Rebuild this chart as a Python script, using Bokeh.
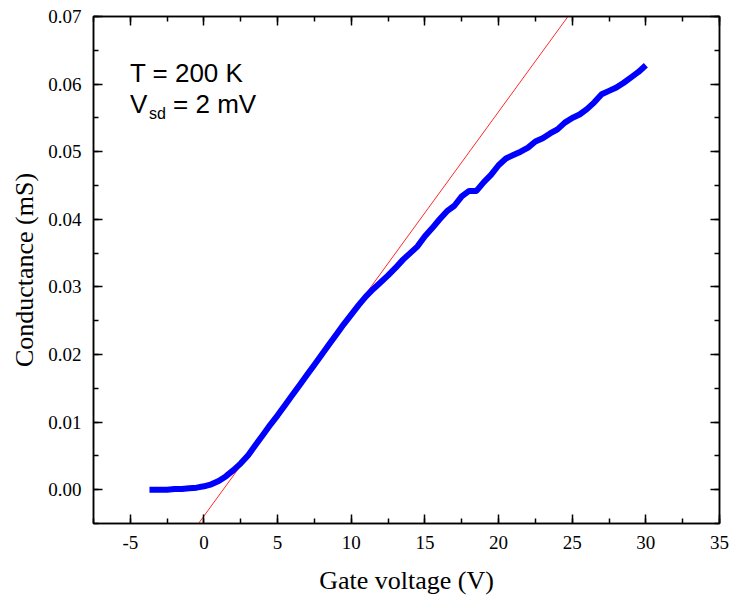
from bokeh.plotting import figure
from bokeh.models import (Range1d, LinearAxis, SingleIntervalTicker,
                          CustomJSTickFormatter, ColumnDataSource)
from bokeh.core.properties import value
from bokeh.embed import file_html
from bokeh.resources import INLINE

# ---- data ----
gate_voltage = [-3.7, -3.0, -2.5, -2.0, -1.5, -1.0, -0.5, 0.0, 0.5, 1.0, 1.5, 2.0, 2.5, 3.0,
                3.5, 4.0, 4.5, 5.0, 5.5, 6.0, 6.5, 7.0, 7.5, 8.0, 8.5, 9.0, 9.5, 10.0,
                10.5, 11.0, 11.5, 12.0, 12.5, 13.0, 13.5, 14.0, 14.5, 15.0, 15.5, 16.0,
                16.5, 17.0, 17.5, 18.0, 18.5, 19.0, 19.5, 20.0, 20.5, 21.0, 21.5, 22.0,
                22.5, 23.0, 23.5, 24.0, 24.5, 25.0, 25.5, 26.0, 26.5, 27.0, 27.5, 28.0,
                28.5, 29.0, 29.5, 30.0]
conductance = [0.0000, 0.0000, 0.0000, 0.0001, 0.0001, 0.0002, 0.0003, 0.0005, 0.0008, 0.0013,
               0.0020, 0.0029, 0.0039, 0.0051, 0.0066, 0.0081, 0.0096, 0.0110, 0.0125, 0.0140,
               0.0155, 0.0170, 0.0185, 0.0200, 0.0215, 0.0230, 0.0245, 0.0259, 0.0273, 0.0286,
               0.0297, 0.0307, 0.0317, 0.0328, 0.0340, 0.0350, 0.0360, 0.0375, 0.0387, 0.0400,
               0.0412, 0.0420, 0.0434, 0.0442, 0.0442, 0.0455, 0.0466, 0.0480, 0.0490, 0.0495,
               0.0500, 0.0506, 0.0515, 0.0520, 0.0527, 0.0533, 0.0543, 0.0550, 0.0555, 0.0563,
               0.0573, 0.0585, 0.0590, 0.0595, 0.0602, 0.0610, 0.0618, 0.0628]

# linear fit (red line): slope in mS/V and threshold voltage
fit_slope = 0.00299
fit_threshold = 1.30
fit_voltage = [-2.0, 27.0]
fit_conductance = [fit_slope * (v - fit_threshold) for v in fit_voltage]

x_ticks_interval = 5
y_ticks_interval = 0.01

SERIF = "Liberation Serif"
TICK_FONT = "Times"
SANS = "Liberation Sans"

p = figure(width=732, height=603, output_backend="svg", toolbar_location=None,
           x_range=Range1d(-7.5, 35), y_range=Range1d(-0.005, 0.07),
           min_border_left=93, min_border_right=13, min_border_top=16, min_border_bottom=80,
           x_axis_label="Gate voltage (V)", y_axis_label="Conductance (mS)")

p.background_fill_color = "white"
p.border_fill_color = "white"
p.outline_line_color = "black"
p.outline_line_width = 1.5
p.xgrid.visible = False
p.ygrid.visible = False

xticker = SingleIntervalTicker(interval=x_ticks_interval, num_minor_ticks=2)
yticker = SingleIntervalTicker(interval=y_ticks_interval, num_minor_ticks=2)


def style(ax):
    ax.axis_line_color = "black"
    ax.axis_line_width = 1.5
    ax.major_tick_line_color = "black"
    ax.major_tick_line_width = 1.5
    ax.minor_tick_line_color = "black"
    ax.minor_tick_line_width = 1.5
    ax.major_tick_in = 9
    ax.major_tick_out = 0
    ax.minor_tick_in = 5
    ax.minor_tick_out = 0
    ax.major_label_text_font = TICK_FONT
    ax.major_label_text_font_style = "normal"
    ax.major_label_text_font_size = "19px"
    ax.major_label_text_color = "black"
    ax.axis_label_text_font = SERIF
    ax.axis_label_text_font_size = "26px"
    ax.axis_label_text_font_style = "normal"
    ax.axis_label_text_color = "black"


xa = p.xaxis[0]
xa.ticker = xticker
xa.formatter = CustomJSTickFormatter(code="return String(tick);")
style(xa)
xa.major_label_standoff = 12
xa.axis_label_standoff = 14

ya = p.yaxis[0]
ya.ticker = yticker
ya.formatter = CustomJSTickFormatter(code="return tick.toFixed(2);")
style(ya)
ya.major_label_standoff = 12
ya.axis_label_standoff = 6

blank = CustomJSTickFormatter(code="return '';")
top = LinearAxis(ticker=xticker, formatter=blank, major_label_standoff=0)
style(top)
p.add_layout(top, "above")
right = LinearAxis(ticker=yticker, formatter=blank, major_label_standoff=0)
style(right)
p.add_layout(right, "right")

p.line(fit_voltage, fit_conductance, line_color="#ff2a2a", line_width=1)
p.line(gate_voltage, conductance, line_color="#0000ff", line_width=6, line_join="round")

# annotation text (positions of the inset labels)
big = ColumnDataSource(dict(x=[-5.03, -5.03, -2.1], y=[0.0617, 0.0570, 0.0570],
                            t=["T = 200 K", "V", "= 2 mV"]))
small = ColumnDataSource(dict(x=[-3.74], y=[0.0557], t=["sd"]))
p.text(x="x", y="y", text="t", source=big, text_font=value(SANS),
       text_font_size=value("26px"), text_color="black", text_baseline="alphabetic")
p.text(x="x", y="y", text="t", source=small, text_font=value(SANS),
       text_font_size=value("16px"), text_color="black", text_baseline="alphabetic")

open("out.html", "w").write(file_html(p, INLINE))
